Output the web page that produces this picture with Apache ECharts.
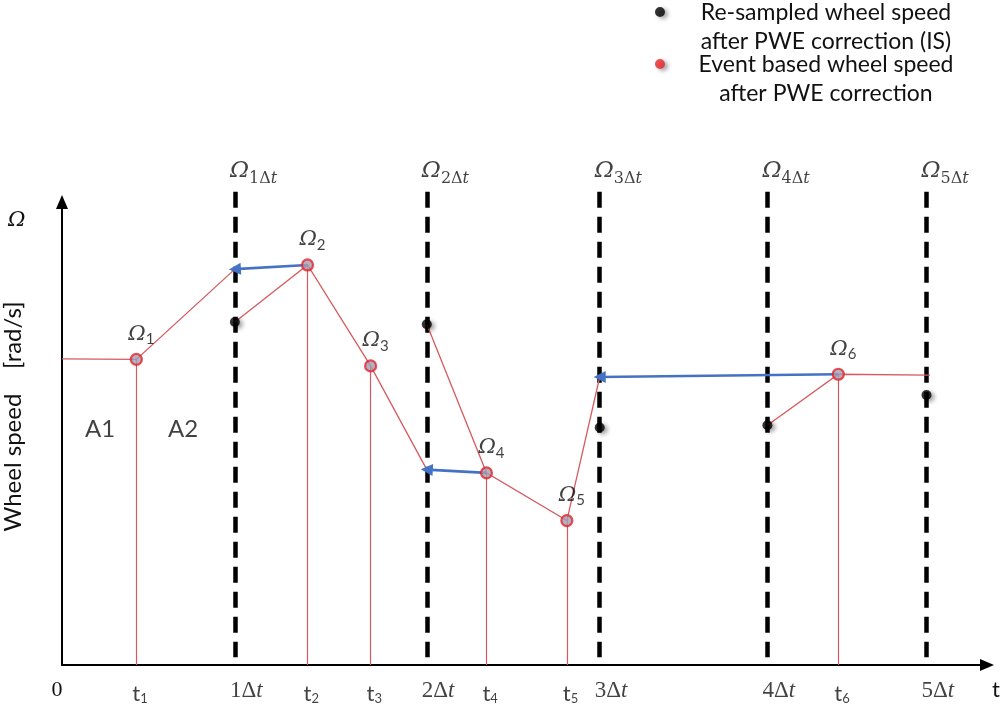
<!DOCTYPE html>
<html>
<head>
<meta charset="utf-8">
<script src="https://cdn.jsdelivr.net/npm/echarts@6/dist/echarts.min.js"></script>
<style>
  html, body { margin: 0; padding: 0; background: #fff; }
  #chart { width: 1004px; height: 715px; }
</style>
</head>
<body>
<div id="chart"></div>
<script>
// Sampling instants k·Δt on the time axis (time in units of about one Δt)
const sampleTimes = [1.00, 2.11, 3.11, 4.08, 5.00];
const sampleLabels = ['1', '2', '3', '4', '5'];

// Event instants t1..t6 and the event-based wheel speed Ω1..Ω6
const eventTimes = [0.43, 1.42, 1.785, 2.455, 2.92, 4.49];
const eventSpeeds = [66.0, 86.4, 64.6, 41.5, 31.2, 62.8];
const eventLabels = ['1', '2', '3', '4', '5', '6'];

// Re-sampled wheel speed at 1Δt..5Δt
const resampledSpeeds = [74.1, 73.6, 51.3, 51.8, 58.3];

// Event speed carried back onto the preceding sampling instant (1Δt, 2Δt, 3Δt)
const carriedSpeeds = [85.5, 42.2, 62.2];

// Speed before the first event and at the end of the record
const initialSpeed = 66.1;
const finalTime = 5.02;
const finalSpeed = 62.6;

// Area labels
const areaNames = ['A1', 'A2'];
const areaTimes = [0.22, 0.70];
const areaSpeeds = [51.0, 51.0];

const RESAMPLED = 'Re-sampled wheel speed after PWE correction (IS)';
const EVENT = 'Event based wheel speed after PWE correction';
const legendLines = {
  [RESAMPLED]: ['Re-sampled wheel speed', 'after PWE correction (IS)'],
  [EVENT]: ['Event based wheel speed', 'after PWE correction']
};

const SERIF = '"DejaVu Serif", "Liberation Serif", serif';
const ROMAN = '"Liberation Serif", "DejaVu Serif", serif';
const SANS = 'Lato, "Open Sans", sans-serif';
const INK = '#111';
const RED_LINE = '#d65a5e';
const BLUE = '#4472c4';

const X_MAX = 5.35, Y_MAX = 100;
const DASH_TOP = 102.2, DASH_BOTTOM = 1.7, TOP_LABEL_Y = 106.6;

const pt = i => [eventTimes[i], eventSpeeds[i]];

// Red event-based traces, each ending at the sampling instant it is carried to
const traces = [
  [[0, initialSpeed], pt(0), [sampleTimes[0], carriedSpeeds[0]]],
  [[sampleTimes[0], resampledSpeeds[0]], pt(1), pt(2), [sampleTimes[1], carriedSpeeds[1]]],
  [[sampleTimes[1], resampledSpeeds[1]], pt(3), pt(4), [sampleTimes[2], carriedSpeeds[2]]],
  [[sampleTimes[3], resampledSpeeds[3]], pt(5), [finalTime, finalSpeed]]
];

// Blue arrows: event speed moved back to the sampling instant
const arrows = [
  [pt(1), [sampleTimes[0], carriedSpeeds[0]]],
  [pt(3), [sampleTimes[1], carriedSpeeds[1]]],
  [pt(5), [sampleTimes[2], carriedSpeeds[2]]]
];

const DOT_ICON = 'path://M0,5a5,5 0 1,0 10,0a5,5 0 1,0 -10,0zM4.95,40h0.1v0.1h-0.1z';
const dotShadow = { shadowBlur: 4, shadowOffsetX: 3, shadowOffsetY: 2, shadowColor: 'rgba(0,0,0,0.45)' };

const chart = echarts.init(document.getElementById('chart'), null, { renderer: 'canvas' });

const option = {
  animation: false,
  backgroundColor: '#fff',
  title: {
    text: 'Ω', left: 3, top: 205,
    textStyle: { fontFamily: SERIF, fontStyle: 'italic', fontWeight: 'normal', fontSize: 21, color: INK }
  },
  legend: {
    left: 655, top: 1, padding: 0, itemGap: 0, orient: 'vertical', selectedMode: false,
    itemWidth: 10, itemHeight: 40, icon: DOT_ICON,
    data: [
      { name: RESAMPLED, itemStyle: Object.assign({ color: '#000', borderWidth: 0 }, dotShadow) },
      { name: EVENT, itemStyle: Object.assign({ color: '#e8262a', borderWidth: 0 }, dotShadow) }
    ],
    formatter: name => legendLines[name].map(s => '{a|' + s + '}').join('\n'),
    textStyle: {
      rich: { a: { width: 312, align: 'center', lineHeight: 29, fontFamily: SANS, fontSize: 23, color: INK } }
    }
  },
  grid: { left: 62, right: 17, top: 202, bottom: 50, outerBoundsMode: 'none' },
  xAxis: {
    type: 'value', min: 0, max: X_MAX,
    axisLine: { show: true, symbol: ['none', 'triangle'], symbolSize: [12, 14], lineStyle: { color: '#000', width: 2 } },
    axisTick: { show: false },
    splitLine: { show: false },
    axisLabel: {
      customValues: [0], formatter: () => '0', margin: 14, padding: [0, 10, 0, 0],
      fontFamily: ROMAN, fontSize: 22, color: INK
    },
    name: 't', nameLocation: 'end', nameGap: 5,
    nameTextStyle: { fontFamily: SANS, fontSize: 22, color: INK, verticalAlign: 'top', padding: [14, 0, 0, 0] }
  },
  yAxis: {
    type: 'value', min: 0, max: Y_MAX,
    axisLine: { show: true, symbol: ['none', 'triangle'], symbolSize: [12, 14], lineStyle: { color: '#000', width: 2 } },
    axisTick: { show: false },
    axisLabel: { show: false },
    splitLine: { show: false },
    name: 'Wheel speed    [rad/s]', nameLocation: 'middle', nameGap: 37,
    nameTextStyle: { fontFamily: SANS, fontSize: 24, color: INK, padding: [0, 0, 0, 34] }
  },
  series: [
    {
      // sampling instants
      type: 'lines', coordinateSystem: 'cartesian2d', clip: false, silent: true, z: 1,
      lineStyle: { color: '#000', width: 4.5, type: [16, 9], opacity: 1 },
      data: sampleTimes.map(t => ({ coords: [[t, DASH_TOP], [t, DASH_BOTTOM]] }))
    },
    {
      // drop lines from each event to its instant
      type: 'lines', coordinateSystem: 'cartesian2d', silent: true, z: 2,
      lineStyle: { color: RED_LINE, width: 1.2, opacity: 1 },
      data: eventTimes.map((t, i) => ({ coords: [[t, eventSpeeds[i]], [t, 0]] }))
    },
    {
      type: 'lines', coordinateSystem: 'cartesian2d', polyline: true, silent: true, z: 3,
      lineStyle: { color: RED_LINE, width: 1.3, opacity: 1 },
      data: traces.map(c => ({ coords: c }))
    },
    {
      type: 'lines', coordinateSystem: 'cartesian2d', silent: true, z: 4,
      symbol: ['none', 'triangle'], symbolSize: 12,
      lineStyle: { color: BLUE, width: 2.6, opacity: 1 },
      itemStyle: { color: BLUE },
      data: arrows.map(c => ({ coords: c }))
    },
    {
      name: RESAMPLED, type: 'scatter', z: 6, symbolSize: 10,
      itemStyle: Object.assign({ color: '#000' }, dotShadow),
      data: sampleTimes.map((t, i) => [t, resampledSpeeds[i]])
    },
    {
      name: EVENT, type: 'scatter', z: 6, symbolSize: 11,
      itemStyle: { color: '#a29eb2', borderColor: '#e3232c', borderWidth: 2.2 },
      data: eventTimes.map((t, i) => ({ value: [t, eventSpeeds[i]], name: eventLabels[i] })),
      label: {
        show: true, position: 'top', distance: 6, offset: [5, 0],
        formatter: p => '{o|Ω}{s|' + p.name + '}',
        rich: {
          o: { fontFamily: SERIF, fontStyle: 'italic', fontSize: 21, color: INK },
          s: { fontFamily: SANS, fontSize: 15, color: INK, padding: [10, 0, 0, 0] }
        }
      }
    },
    {
      // Ω_kΔt above each sampling instant
      type: 'scatter', symbolSize: 0, silent: true, clip: false, z: 7,
      data: sampleTimes.map((t, i) => ({ value: [t, TOP_LABEL_Y], name: sampleLabels[i] })),
      label: {
        show: true, position: 'right', distance: 0, offset: [-5, 0],
        formatter: p => '{o|Ω}{s|' + p.name + 'Δ}{i|t}',
        rich: {
          o: { fontFamily: SERIF, fontStyle: 'italic', fontSize: 23, color: INK },
          s: { fontFamily: SERIF, fontSize: 16, color: INK, padding: [14, 0, 0, 0] },
          i: { fontFamily: SERIF, fontStyle: 'italic', fontSize: 16, color: INK, padding: [14, 0, 0, 0] }
        }
      }
    },
    {
      // kΔt tick labels
      type: 'scatter', symbolSize: 0, silent: true, z: 7,
      data: sampleTimes.map((t, i) => ({ value: [t, 0], name: sampleLabels[i] })),
      label: {
        show: true, position: 'right', distance: 0, offset: [-5, 26],
        formatter: p => '{n|' + p.name + 'Δ}{i|t}',
        rich: {
          n: { fontFamily: ROMAN, fontSize: 23, color: INK },
          i: { fontFamily: ROMAN, fontStyle: 'italic', fontSize: 23, color: INK }
        }
      }
    },
    {
      // t_i tick labels
      type: 'scatter', symbolSize: 0, silent: true, z: 7,
      data: eventTimes.map((t, i) => ({ value: [t, 0], name: eventLabels[i] })),
      label: {
        show: true, position: 'right', distance: 0, offset: [-4, 29],
        formatter: p => '{t|t}{s|' + p.name + '}',
        rich: {
          t: { fontFamily: SANS, fontSize: 22, color: INK },
          s: { fontFamily: SANS, fontSize: 13, color: INK, padding: [10, 0, 0, 0] }
        }
      }
    },
    {
      type: 'scatter', symbolSize: 0, silent: true, z: 7,
      data: areaTimes.map((t, i) => ({ value: [t, areaSpeeds[i]], name: areaNames[i] })),
      label: {
        show: true, position: 'inside', formatter: p => p.name,
        fontFamily: SANS, fontSize: 24, color: INK
      }
    }
  ]
};

chart.setOption(option);
</script>
</body>
</html>
